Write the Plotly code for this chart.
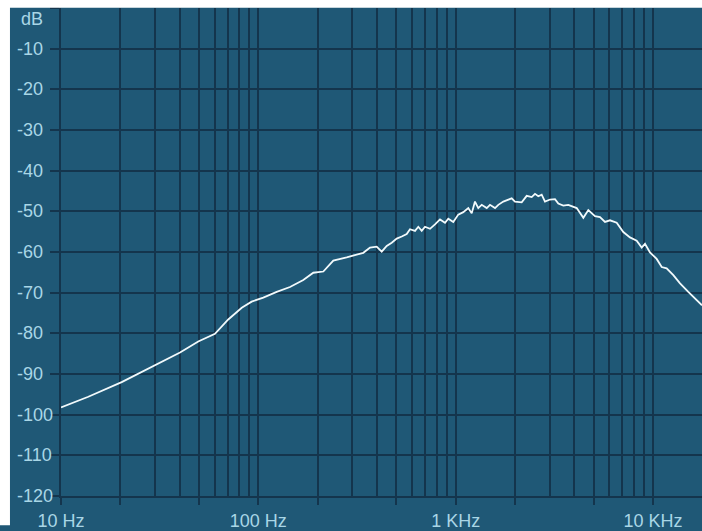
import plotly.graph_objects as go

# Frequenzgang (Hz / dB)
freq_hz = [
    10.0, 13.75, 20.3, 30.0, 40.1, 49.6, 60.3, 70.4, 82.4, 92.5,
    106.0, 123.9, 144.7, 169.0, 190.0, 213.5, 239.9, 280.4, 340.4, 368.1,
    398.0, 421.9, 447.3, 474.2, 502.8, 533.0, 564.9, 586.9, 622.3, 646.7,
    672.9, 699.3, 741.3, 785.8, 833.0, 883.1, 917.7, 972.8, 1031, 1093,
    1159, 1206, 1253, 1302, 1355, 1437, 1493, 1583, 1645, 1744,
    1849, 1923, 1998, 2161, 2291, 2429, 2524, 2623, 2729, 2836,
    3007, 3187, 3313, 3512, 3723, 4107, 4436, 4702, 5083, 5389,
    5713, 6055, 6548, 7073, 7647, 8269, 8767, 9110, 9656, 10440,
    11070, 11730, 12680, 13710, 15100, 16330, 17720,
]
level_db = [
    -98.2, -95.6, -92.0, -87.9, -84.7, -82.0, -80.1, -76.6, -73.7, -72.2,
    -71.2, -69.8, -68.6, -66.9, -65.1, -64.8, -62.1, -61.3, -60.2, -58.9,
    -58.7, -59.9, -58.5, -57.7, -56.7, -56.2, -55.6, -54.4, -54.8, -53.8,
    -54.8, -53.8, -54.3, -53.2, -52.0, -52.8, -51.8, -52.6, -50.8, -50.2,
    -49.2, -50.5, -47.6, -49.2, -48.4, -49.2, -48.4, -49.2, -48.4, -47.6,
    -47.1, -46.8, -47.6, -47.8, -46.2, -46.5, -45.7, -46.3, -45.9, -47.6,
    -47.1, -47.0, -48.1, -48.6, -48.4, -49.2, -51.6, -49.7, -51.2, -51.4,
    -52.6, -52.2, -52.8, -55.1, -56.4, -57.2, -58.9, -58.0, -60.1, -61.7,
    -63.7, -64.0, -65.7, -67.7, -69.8, -71.4, -73.1,
]

x_ticks = [10, 20, 50, 100, 200, 500, 1000, 2000, 5000, 10000]
x_ticktext = ["10 Hz", "", "", "100 Hz", "", "", "1 KHz", "", "", "10 KHz"]
x_minor = [30, 40, 60, 70, 80, 90, 300, 400, 600, 700, 800, 900,
           3000, 4000, 6000, 7000, 8000, 9000]
y_ticks = [0, -10, -20, -30, -40, -50, -60, -70, -80, -90, -100, -110, -120]
y_labels = ["", "-10", "-20", "-30", "-40", "-50", "-60", "-70", "-80",
            "-90", "-100", "-110", "-120"]

BG = "#1f5876"
GRID = "#14354d"
TXT = "#a9d6e6"
FONT = "Liberation Sans, Arial, sans-serif"

fig = go.Figure()
fig.add_trace(
    go.Scatter(
        x=freq_hz,
        y=level_db,
        mode="lines",
        line=dict(color="#f2fafc", width=1.8),
        hoverinfo="skip",
    )
)

# Y-Beschriftung linksbuendig, wie im Original
annots = []
for v, t in zip(y_ticks, y_labels):
    if not t:
        continue
    annots.append(dict(
        x=-0.0718, xref="paper", xanchor="left",
        y=v, yref="y", yanchor="middle",
        text=t, showarrow=False,
        font=dict(family=FONT, size=18, color=TXT),
    ))
annots.append(dict(
    x=-0.066, xref="paper", xanchor="left",
    y=-2.7, yref="y", yanchor="middle",
    text="dB", showarrow=False,
    font=dict(family=FONT, size=18, color=TXT),
))

# weisse Raender oben und links
shapes = [
    dict(type="rect", xref="paper", yref="paper",
         x0=-0.1, x1=-0.0796, y0=-0.06, y1=1.02,
         fillcolor="white", line=dict(width=0), layer="above"),
    dict(type="rect", xref="paper", yref="paper",
         x0=-0.1, x1=1.01, y0=1.0005, y1=1.02,
         fillcolor="white", line=dict(width=0), layer="above"),
]

fig.update_layout(
    width=702,
    height=531,
    margin=dict(l=61, r=0, t=8, b=27),
    paper_bgcolor=BG,
    plot_bgcolor=BG,
    showlegend=False,
    annotations=annots,
    shapes=shapes,
    xaxis=dict(
        type="log",
        range=[1, 4.2484],
        tickmode="array",
        tickvals=x_ticks,
        ticktext=x_ticktext,
        ticks="outside",
        ticklen=7,
        tickwidth=2,
        tickcolor=GRID,
        showgrid=True,
        gridcolor=GRID,
        gridwidth=2,
        showline=True,
        linecolor=GRID,
        linewidth=2,
        zeroline=False,
        tickfont=dict(family=FONT, size=18, color=TXT),
        minor=dict(tickvals=x_minor, showgrid=True, gridcolor=GRID,
                   gridwidth=2, ticks=""),
    ),
    yaxis=dict(
        range=[-120, 0],
        tickmode="array",
        tickvals=y_ticks,
        showticklabels=False,
        ticks="outside",
        ticklen=9,
        tickwidth=2,
        tickcolor=GRID,
        showgrid=True,
        gridcolor=GRID,
        gridwidth=2,
        showline=True,
        linecolor=GRID,
        linewidth=2,
        zeroline=False,
    ),
)

# Seitenrand entfernen, damit die Grafik genau ins Fenster passt
fig.write_html(
    "out.html",
    config={"displayModeBar": False, "staticPlot": True},
    post_script=(
        "document.body.style.margin='0';"
        "document.body.style.overflow='hidden';"
        "document.documentElement.style.overflow='hidden';"
    ),
)
